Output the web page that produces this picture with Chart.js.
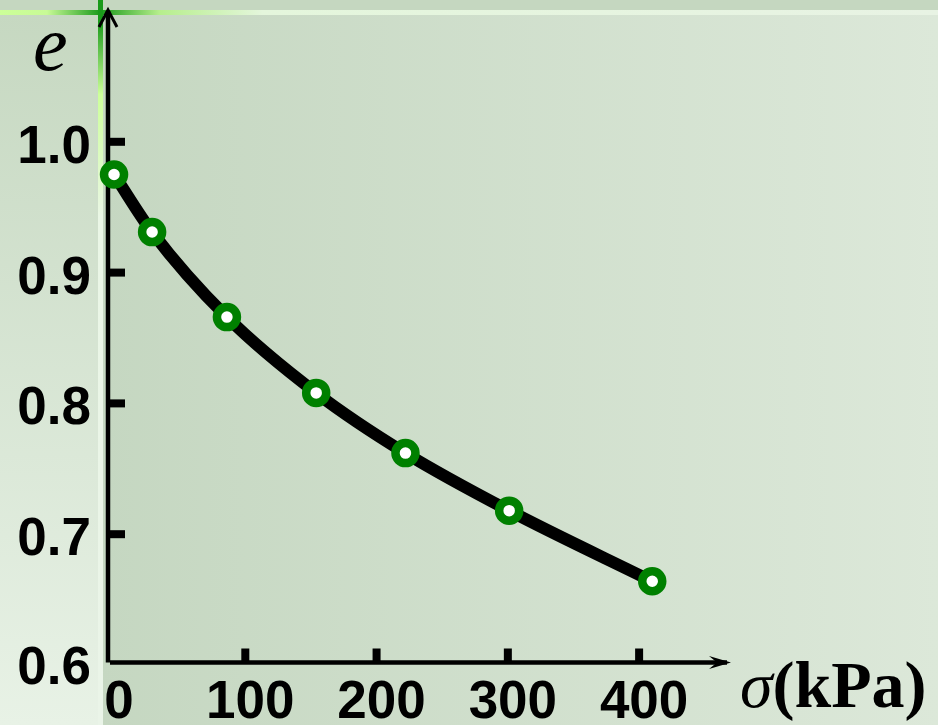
<!DOCTYPE html>
<html>
<head>
<meta charset="utf-8">
<script src="https://cdn.jsdelivr.net/npm/chart.js@4.4.1/dist/chart.umd.min.js"></script>
<style>
  html, body { margin: 0; padding: 0; background: #c5d7c0; }
  #wrap { width: 938px; height: 725px; position: relative; }
</style>
</head>
<body>
<div id="wrap"><canvas id="chart" width="938" height="725"></canvas></div>
<script>
// e - sigma compression curve (void ratio against vertical stress)
const sigmaValues = [0, 29, 86, 154, 222, 301, 410];
const eValues     = [0.975, 0.931, 0.866, 0.808, 0.762, 0.718, 0.664];

const xTicks      = [0, 100, 200, 300, 400];
const xTickLabels = ['0', '100', '200', '300', '400'];
const yTicks      = [0.6, 0.7, 0.8, 0.9, 1.0];
const yTickLabels = ['0.6', '0.7', '0.8', '0.9', '1.0'];

const yTitle = 'e';
const xTitleSymbol = 'σ';
const xTitleUnit = '(kPa)';

const TICK_FONT = 'bold 53px "Liberation Sans", Arial, sans-serif';

// slide-style backdrop: dark band on top, lighter left strip, green accent lines
const backdrop = {
  id: 'backdrop',
  beforeDraw(chart) {
    const { ctx, width, height } = chart;
    ctx.save();
    let g = ctx.createLinearGradient(100, 0, width, 0);
    g.addColorStop(0, '#c5d7c1');
    g.addColorStop(1, '#dce8d9');
    ctx.fillStyle = g;
    ctx.fillRect(0, 0, width, height);

    g = ctx.createLinearGradient(0, 14, 0, height);
    g.addColorStop(0, '#c6d8c1');
    g.addColorStop(1, '#e8f2e6');
    ctx.fillStyle = g;
    ctx.fillRect(0, 14, 98, height - 14);

    ctx.fillStyle = '#c5d7c0';
    ctx.fillRect(0, 0, width, 10);

    g = ctx.createLinearGradient(0, 0, width, 0);
    g.addColorStop(0, '#ccff99');
    g.addColorStop(0.05, '#c8fa96');
    g.addColorStop(0.107, '#1a9a1a');
    g.addColorStop(0.17, '#b6ee8c');
    g.addColorStop(0.28, '#e4f6dc');
    g.addColorStop(1, '#e8f3e4');
    ctx.fillStyle = g;
    ctx.fillRect(0, 10, width, 5);

    g = ctx.createLinearGradient(0, 0, 0, height);
    g.addColorStop(0, '#1a9a1a');
    g.addColorStop(0.03, '#1a9a1a');
    g.addColorStop(0.13, '#ccff99');
    g.addColorStop(0.3, '#eaf6e6');
    g.addColorStop(1, '#eaf4e8');
    ctx.fillStyle = g;
    ctx.fillRect(98, 0, 5, height);
    ctx.restore();
  },
};

// axis lines with arrow heads, inward tick marks and tick labels
const axesWithArrows = {
  id: 'axesWithArrows',
  beforeDatasetsDraw(chart) {
    const { ctx, chartArea: a, scales: { x, y } } = chart;
    const x0 = a.left, y0 = a.bottom - 2.5;
    ctx.save();
    ctx.strokeStyle = '#000';
    ctx.fillStyle = '#000';
    ctx.lineCap = 'butt';

    ctx.lineWidth = 4.5;
    ctx.beginPath();
    ctx.moveTo(x0, y0);
    ctx.lineTo(x0, a.top);
    ctx.stroke();
    ctx.lineWidth = 3;
    ctx.beginPath();
    ctx.moveTo(x0 - 9, a.top + 16);
    ctx.lineTo(x0, a.top - 1);
    ctx.lineTo(x0 + 9, a.top + 16);
    ctx.stroke();

    ctx.lineWidth = 4.5;
    ctx.beginPath();
    ctx.moveTo(x0 + 2, y0);
    ctx.lineTo(a.right - 4, y0);
    ctx.stroke();
    ctx.beginPath();
    ctx.moveTo(a.right - 22, y0 - 6.5);
    ctx.lineTo(a.right, y0);
    ctx.lineTo(a.right - 22, y0 + 6.5);
    ctx.lineTo(a.right - 14, y0);
    ctx.closePath();
    ctx.fill();

    xTicks.forEach(v => {
      if (v === 0) return;
      const px = x.getPixelForValue(v);
      ctx.fillRect(px - 4, y0 - 14, 8, 14);
    });
    yTicks.forEach(v => {
      if (v === yTicks[0]) return;
      const py = y.getPixelForValue(v);
      ctx.fillRect(x0 + 1, py - 4, 16, 8);
    });

    ctx.font = TICK_FONT;
    ctx.textBaseline = 'alphabetic';
    ctx.textAlign = 'center';
    xTicks.forEach((v, i) => {
      ctx.fillText(xTickLabels[i], x.getPixelForValue(v) + 5, 718);
    });
    ctx.textAlign = 'right';
    yTicks.forEach((v, i) => {
      const py = v === yTicks[0] ? y0 : y.getPixelForValue(v);
      ctx.fillText(yTickLabels[i], 91, py + 21);
    });

    ctx.textAlign = 'left';
    ctx.font = 'italic 78px "Liberation Serif", "Times New Roman", serif';
    ctx.fillText(yTitle, 33, 70);
    ctx.font = 'italic 66px "Liberation Serif", "Times New Roman", serif';
    ctx.fillText(xTitleSymbol, 740, 707);
    const w = ctx.measureText(xTitleSymbol).width;
    ctx.font = 'bold 66px "Liberation Serif", "Times New Roman", serif';
    ctx.fillText(xTitleUnit, 740 + w, 707);
    ctx.restore();
  },
};

new Chart(document.getElementById('chart'), {
  type: 'line',
  data: {
    datasets: [{
      label: 'e',
      data: sigmaValues.map((s, i) => ({ x: s, y: eValues[i] })),
      borderColor: '#000000',
      borderWidth: 12,
      cubicInterpolationMode: 'monotone',
      pointRadius: 10,
      pointBorderWidth: 8.5,
      pointBorderColor: '#008000',
      pointBackgroundColor: '#ffffff',
      fill: false,
      clip: false,
    }],
  },
  options: {
    responsive: false,
    animation: false,
    events: [],
    layout: { autoPadding: false, padding: { left: 108, right: 207, top: 11, bottom: 60 } },
    plugins: {
      legend: { display: false },
      tooltip: { enabled: false },
    },
    scales: {
      x: { type: 'linear', min: -4.6, max: 470, display: false },
      y: { type: 'linear', min: 0.6, max: 1.1, display: false },
    },
  },
  plugins: [backdrop, axesWithArrows],
});
</script>
</body>
</html>
